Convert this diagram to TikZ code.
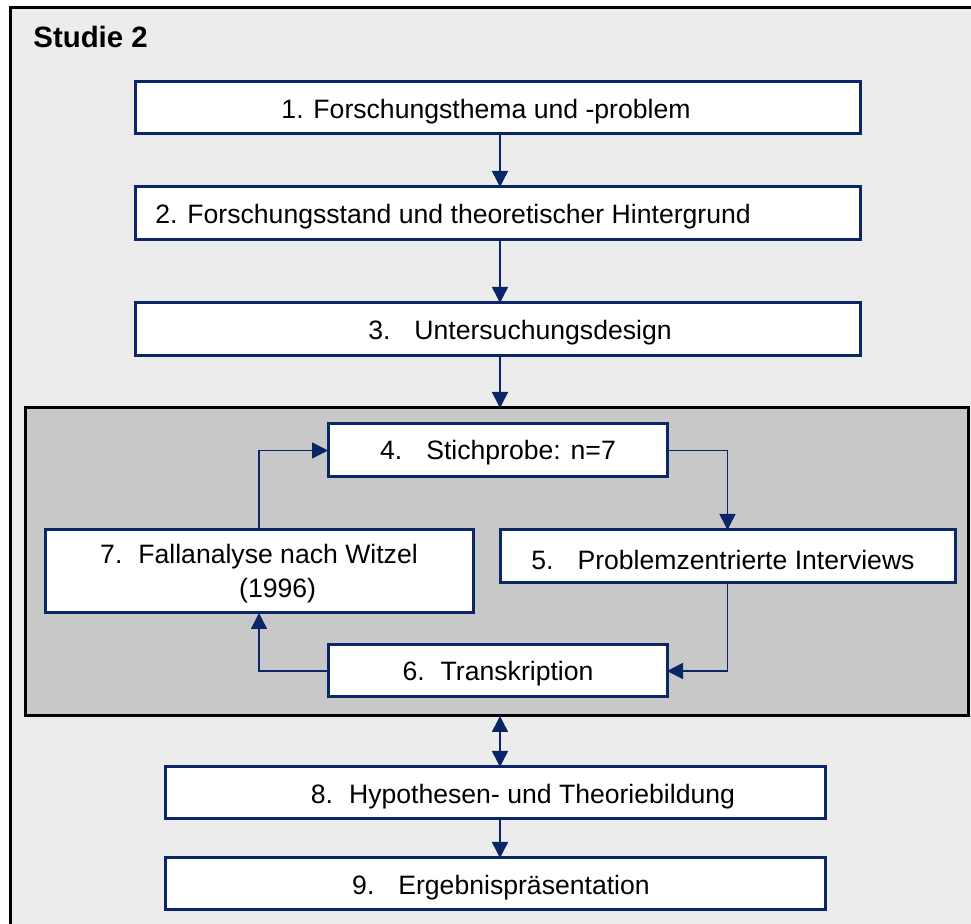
\documentclass[tikz,border=0pt]{standalone}
\usepackage{fontspec}
\setmainfont{Liberation Sans}
\usetikzlibrary{arrows.meta,fit}
\definecolor{navy}{HTML}{0A2666}
\definecolor{bgpage}{HTML}{ECECEC}
\definecolor{bginner}{HTML}{C8C8C8}
\begin{document}
\begin{tikzpicture}[x=0.5pt,y=-0.5pt,
  box/.style={draw=navy,line width=1.5pt,fill=white,inner sep=0pt,outer sep=0pt},
  graybox/.style={draw=black,line width=1.5pt,fill=bginner,inner sep=0pt,outer sep=0pt},
  txt/.style={inner sep=0pt,font=\fontsize{13.3}{16}\selectfont},
  arr/.style={draw=navy,line width=0.75pt,-{Triangle[length=8pt,width=8pt]}},
  darr/.style={draw=navy,line width=0.75pt,{Triangle[length=8pt,width=8pt]}-{Triangle[length=8pt,width=8pt]}}]
\useasboundingbox (0,0) rectangle (971,924);
\fill[white] (0,0) rectangle (971,924);
\begin{scope}
\clip (0,0) rectangle (971,924);
\draw[black,line width=1.5pt,fill=bgpage] (10,8) rectangle (990,950);
\end{scope}
\node[anchor=base west,inner sep=0pt,font=\fontsize{14.7}{17}\selectfont\bfseries] (title) at (33,48) {Studie 2};
\coordinate (ax) at (500,0);
% boxes
\node[box,fit={(135,82) (860,134)}] (b1) {};
\node[box,fit={(135,187) (860,240)}] (b2) {};
\node[box,fit={(135,303) (860,356)}] (b3) {};
\node[graybox,fit={(25,408) (968,716)}] (g) {};
\node[box,fit={(328,424) (667,477)}] (b4) {};
\node[box,fit={(500,530) (955,583)}] (b5) {};
\node[box,fit={(45,530) (473,613)}] (b7) {};
\node[box,fit={(328,645) (667,697)}] (b6) {};
\node[box,fit={(165,767) (825,819)}] (b8) {};
\node[box,fit={(165,858) (825,910)}] (b9) {};
% texts
\node[txt] (t1) at (486,112) {1. Forschungsthema und -problem};
\node[txt,anchor=west] (t2) at (155,217) {2. Forschungsstand und theoretischer Hintergrund};
\node[txt] (t3) at (520,333) {3.\hspace{0.9em}Untersuchungsdesign};
\node[txt] (t4) at (498,453) {4.\hspace{0.9em}Stichprobe: n=7};
\node[txt] (t5) at (723,560) {5.\hspace{0.9em}Problemzentrierte Interviews};
\node[txt,align=center] (t7) at (259,574) {7.\hspace{0.6em}Fallanalyse nach Witzel\\[1pt]\hspace*{1.4em}(1996)};
\node[txt] (t6) at (498,674) {6.\hspace{0.6em}Transkription};
\node[txt] (t8) at (523,797) {8.\hspace{0.6em}Hypothesen- und Theoriebildung};
\node[txt] (t9) at (501,888) {9.\hspace{0.9em}Ergebnispräsentation};
% connectors
\draw[arr] (b1.south -| ax) -- (b2.north -| ax);
\draw[arr] (b2.south -| ax) -- (b3.north -| ax);
\draw[arr] (b3.south -| ax) -- (g.north -| ax);
\draw[arr] (b4.east) -| (b5.north);
\draw[arr] (b5.south) |- (b6.east);
\draw[arr] (b6.west) -| (b7.south);
\draw[arr] (b7.north) |- (b4.west);
\draw[darr] (g.south -| ax) -- (b8.north -| ax);
\draw[arr] (b8.south -| ax) -- (b9.north -| ax);
\end{tikzpicture}
\end{document}
